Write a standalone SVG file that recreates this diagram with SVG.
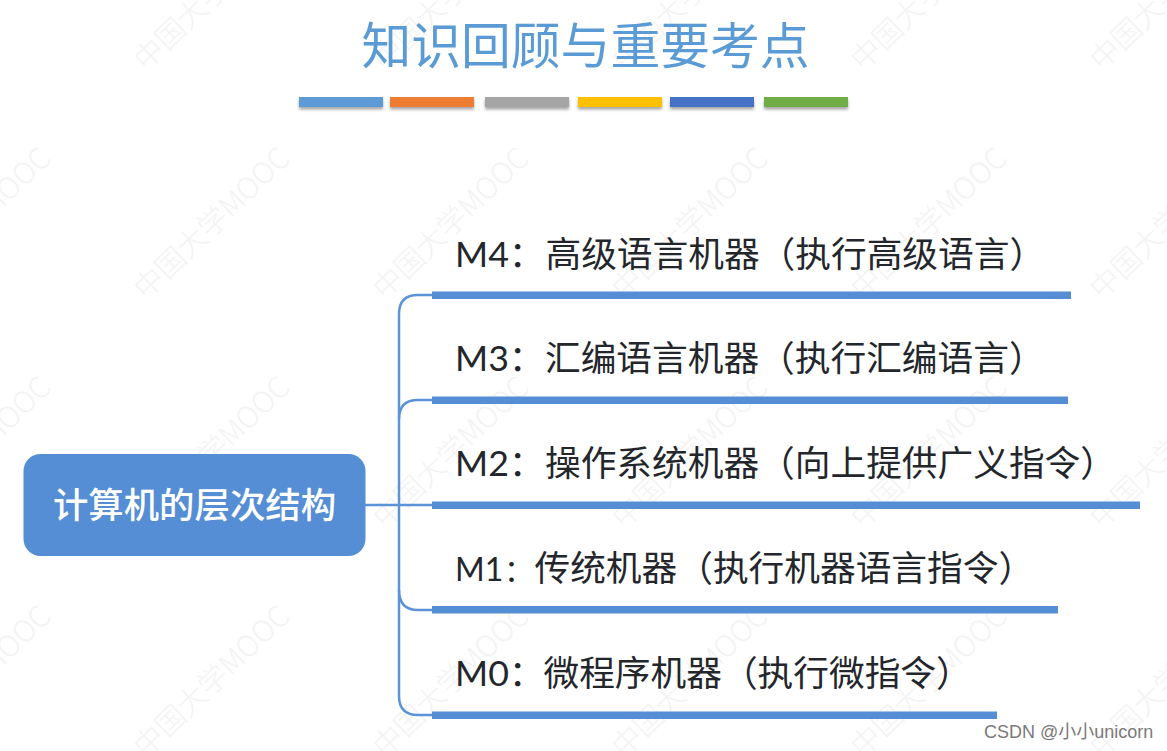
<svg xmlns="http://www.w3.org/2000/svg" xmlns:xlink="http://www.w3.org/1999/xlink" width="1167" height="751" viewBox="0 0 1167 751">
<style>
.wm{font-family:"Noto Sans CJK SC","Liberation Sans",sans-serif;font-size:29.500px;font-weight:300;fill:#f3f3f3}
.lb{font-family:"Lato","Noto Sans CJK SC",sans-serif;font-size:35.700px;fill:#23262b}
.bar{fill:#558ed5}
.cn{fill:none;stroke:#5b93d9;stroke-width:2.500}
</style>
<defs>
<filter id="sh" x="-10%" y="-50%" width="120%" height="220%"><feDropShadow dx="0" dy="2.500" stdDeviation="1.500" flood-color="#000" flood-opacity="0.35"/></filter>
<text id="w" class="wm" transform="rotate(-44)">中国大学MOOC</text>
</defs>
<rect width="1167" height="751" fill="#fff"/>
<g id="watermark">
<use xlink:href="#w" x="-93" y="72"/><use xlink:href="#w" x="146" y="72"/><use xlink:href="#w" x="385" y="72"/><use xlink:href="#w" x="624" y="72"/><use xlink:href="#w" x="863" y="72"/><use xlink:href="#w" x="1102" y="72"/>
<use xlink:href="#w" x="-93" y="301"/><use xlink:href="#w" x="146" y="301"/><use xlink:href="#w" x="385" y="301"/><use xlink:href="#w" x="624" y="301"/><use xlink:href="#w" x="863" y="301"/><use xlink:href="#w" x="1102" y="301"/>
<use xlink:href="#w" x="-93" y="530"/><use xlink:href="#w" x="146" y="530"/><use xlink:href="#w" x="385" y="530"/><use xlink:href="#w" x="624" y="530"/><use xlink:href="#w" x="863" y="530"/><use xlink:href="#w" x="1102" y="530"/>
<use xlink:href="#w" x="-93" y="759"/><use xlink:href="#w" x="146" y="759"/><use xlink:href="#w" x="385" y="759"/><use xlink:href="#w" x="624" y="759"/><use xlink:href="#w" x="863" y="759"/><use xlink:href="#w" x="1102" y="759"/>
</g>
<g id="title">
<text x="585.500" y="64" text-anchor="middle" font-family="'Noto Sans CJK SC',sans-serif" font-size="49.800" fill="#5b9bd5">知识回顾与重要考点</text>
<g filter="url(#sh)">
<rect x="299" y="97" width="84" height="10" fill="#5b9bd5"/>
<rect x="390" y="97" width="84" height="10" fill="#ed7d31"/>
<rect x="485" y="97" width="84" height="10" fill="#a5a5a5"/>
<rect x="578" y="97" width="84" height="10" fill="#ffc000"/>
<rect x="670" y="97" width="84" height="10" fill="#4472c4"/>
<rect x="764" y="97" width="84" height="10" fill="#70ad47"/>
</g>
</g>
<g id="connectors">
<path class="cn" d="M365 505H432"/>
<path class="cn" d="M432 295H418Q399 295 399 314V696Q399 715 418 715H432"/>
<path class="cn" d="M432 400H418Q399 400 399 419"/>
<path class="cn" d="M399 590Q399 610 418 610H432"/>
</g>
<g id="root">
<rect x="23.500" y="454" width="342" height="102" rx="17" fill="#558ed5"/>
<text x="194.500" y="518" text-anchor="middle" font-family="'Noto Sans CJK SC',sans-serif" font-size="35.400" font-weight="500" fill="#fff">计算机的层次结构</text>
</g>
<g id="m4"><rect class="bar" x="432" y="291.500" width="639" height="7.500"/><text class="lb" x="455" y="267">M4：<tspan x="545.500">高级语言机器（执行高级语言）</tspan></text></g>
<g id="m3"><rect class="bar" x="432" y="396.500" width="636" height="7.500"/><text class="lb" x="455" y="371">M3：<tspan x="545">汇编语言机器（执行汇编语言）</tspan></text></g>
<g id="m2"><rect class="bar" x="432" y="501.500" width="708" height="7.500"/><text class="lb" x="455" y="476">M2：<tspan x="545">操作系统机器（向上提供广义指令）</tspan></text></g>
<g id="m1"><rect class="bar" x="432" y="606" width="626" height="7.500"/><text class="lb" x="455" y="581"><tspan font-size="32">M1</tspan><tspan x="504" font-size="30">：</tspan><tspan x="534.500">传统机器（执行机器语言指令）</tspan></text></g>
<g id="m0"><rect class="bar" x="432" y="711.500" width="565" height="7.500"/><text class="lb" x="455" y="686">M0：<tspan x="543.500">微程序机器（执行微指令）</tspan></text></g>
<text id="credit" x="984" y="738" font-family="'Liberation Sans','Noto Sans CJK SC',sans-serif" font-size="18" fill="#7a7a7a">CSDN @小小unicorn</text>
</svg>
